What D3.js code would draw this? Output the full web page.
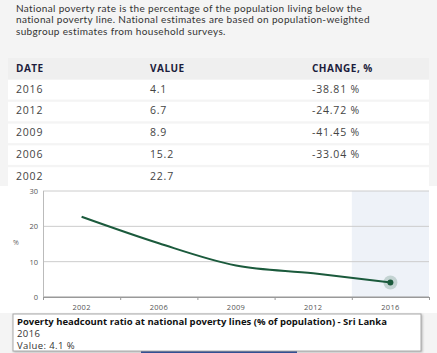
<!DOCTYPE html>
<html>
<head>
<meta charset="utf-8">
<script src="https://cdn.jsdelivr.net/npm/d3@7"></script>
<style>
  body { margin: 0; background: #f4f4f4; }
  svg { display: block; font-family: "Open Sans", sans-serif; }
</style>
</head>
<body>
<svg id="canvas" width="437" height="353"></svg>
<script>
// data
var years = ["2002", "2006", "2009", "2012", "2016"];
var values = [22.7, 15.2, 8.9, 6.7, 4.1];
var table_dates = ["2016", "2012", "2009", "2006", "2002"];
var table_values = ["4.1", "6.7", "8.9", "15.2", "22.7"];
var table_changes = ["-38.81 %", "-24.72 %", "-41.45 %", "-33.04 %", ""];
var y_ticks = [0, 10, 20, 30];
var intro = [
  "National poverty rate is the percentage of the population living below the",
  "national poverty line. National estimates are based on population-weighted",
  "subgroup estimates from household surveys."
];

var svg = d3.select('#canvas');

// intro text
svg.selectAll('text.intro').data(intro).enter().append('text')
  .attr('class', 'intro')
  .attr('x', 16)
  .attr('y', function(d, i){ return 11.5 + i*11.8; })
  .attr('fill', '#333')
  .style('font-family', 'Lato, sans-serif')
  .style('font-size', '10px')
  .style('letter-spacing', '0.35px')
  .text(function(d){ return d; });

// table
var table = svg.append('g');
table.append('rect').attr('x', 8).attr('y', 58).attr('width', 421).attr('height', 21).attr('fill', '#efefef');
var headers = [["DATE", 16], ["VALUE", 150], ["CHANGE, %", 312]];
headers.forEach(function(h){
  table.append('text').attr('x', h[1]).attr('y', 72).attr('fill', '#1c1c3c')
    .style('font-size', '10px').style('font-weight', 'bold').style('letter-spacing', '0.5px').text(h[0]);
});
table_dates.forEach(function(d, i){
  var top = 79 + i*21.8;
  table.append('rect').attr('x', 8).attr('y', top + 1).attr('width', 421).attr('height', 19.5).attr('fill', '#fff');
  var cy = top + 13.5;
  [[d, 16], [table_values[i], 150], [table_changes[i], 312]].forEach(function(c){
    table.append('text').attr('x', c[1]).attr('y', cy).attr('fill', '#444')
      .style('font-size', '10.5px').style('letter-spacing', '0.8px').text(c[0]);
  });
});

// chart
svg.append('rect').attr('x', 0).attr('y', 186).attr('width', 437).attr('height', 127).attr('fill', '#fff');

var xScale = d3.scaleBand().domain(years).range([43, 429]);
var yScale = d3.scaleLinear().domain([0, 30]).range([297, 191]);

// highlight band
svg.append('rect')
  .attr('x', xScale('2016')).attr('y', yScale(30))
  .attr('width', xScale.bandwidth()).attr('height', yScale(0) - yScale(30))
  .attr('fill', '#eef2f8');

// grid
var grid = svg.append('g');
y_ticks.forEach(function(t){
  grid.append('line').attr('x1', 43).attr('x2', 429).attr('y1', yScale(t)).attr('y2', yScale(t))
    .attr('stroke', t == 0 ? '#999' : '#ccc').attr('stroke-width', 1);
  grid.append('text').attr('x', 38).attr('y', yScale(t) + 3).attr('text-anchor', 'end')
    .attr('fill', '#555').style('font-size', '7.5px').text(t);
});
grid.append('line').attr('x1', 43.5).attr('x2', 43.5).attr('y1', yScale(30)).attr('y2', yScale(0)).attr('stroke', '#bbb');
svg.append('text').attr('x', 16).attr('y', 245).attr('text-anchor', 'middle')
  .attr('fill', '#666').style('font-size', '7px').text('%');

var xAxis = svg.append('g').attr('transform', 'translate(0,' + yScale(0) + ')')
  .call(d3.axisBottom(xScale).tickSize(0).tickPadding(8));
xAxis.select('.domain').attr('stroke', '#999');
xAxis.selectAll('text').attr('fill', '#555').style('font-size', '7.5px').style('letter-spacing', '0.3px').style('font-family', '"Open Sans", sans-serif');
years.concat(['end']).forEach(function(y, i){
  var x = i < years.length ? xScale(y) : 429;
  svg.append('line').attr('x1', x + 0.5).attr('x2', x + 0.5).attr('y1', yScale(0)).attr('y2', yScale(0) + 3).attr('stroke', '#999');
});

// line
var pts = years.map(function(y, i){ return [xScale(y) + xScale.bandwidth()/2, yScale(values[i])]; });
svg.append('path')
  .attr('d', d3.line().curve(d3.curveMonotoneX)(pts))
  .attr('fill', 'none').attr('stroke', '#1b5a3c').attr('stroke-width', 2);

// hover marker
var last = pts[pts.length - 1];
svg.append('circle').attr('cx', last[0]).attr('cy', last[1]).attr('r', 7).attr('fill', '#1b5a3c').attr('opacity', 0.2);
svg.append('circle').attr('cx', last[0]).attr('cy', last[1]).attr('r', 3).attr('fill', '#1b5a3c');

// button peeking below
svg.append('rect').attr('x', 141).attr('y', 345).attr('width', 156).attr('height', 10).attr('fill', '#3a5ba8');

// tooltip
var tip = svg.append('g');
tip.append('rect').attr('x', 13).attr('y', 314).attr('width', 408).attr('height', 37)
  .attr('fill', '#fff').attr('stroke', '#aaa').style('filter', 'drop-shadow(1px 1px 1px rgba(0,0,0,0.25))');
tip.append('text').attr('x', 17).attr('y', 325).attr('fill', '#111').style('font-size', '9.5px').style('font-weight', 'bold')
  .text('Poverty headcount ratio at national poverty lines (% of population) - Sri Lanka');
tip.append('text').attr('x', 17).attr('y', 337).attr('fill', '#333').style('font-size', '9.5px').style('letter-spacing', '0.4px').text(years[years.length - 1]);
tip.append('text').attr('x', 17).attr('y', 349).attr('fill', '#333').style('font-size', '9.5px').style('letter-spacing', '0.4px').text('Value: ' + values[values.length - 1] + ' %');
</script>
</body>
</html>
